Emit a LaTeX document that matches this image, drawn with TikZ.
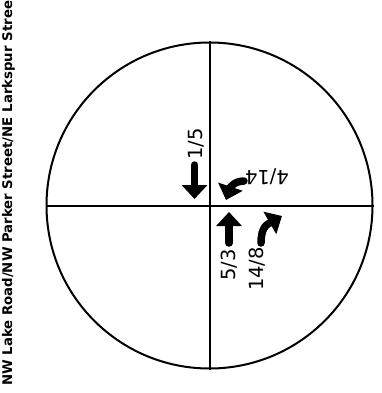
\documentclass[tikz,border=0pt]{standalone}
\usepackage{fontspec}
\setmainfont{DejaVu Sans}
\usetikzlibrary{arrows.meta,positioning}

\begin{document}
\begin{tikzpicture}[x=1pt,y=-1pt,
    mv/.style={line width=7.5pt,line cap=round,-{Triangle[width=25pt,length=14pt]}},
    vol/.style={font=\fontsize{19.5}{19.5}\selectfont,inner sep=0pt}]
  \useasboundingbox (0,0) rectangle (381,393);
  \coordinate (c) at (209.5,205.5);
  \node[circle,draw,line width=2pt,minimum size=326pt,inner sep=0pt] (ring) at (c) {};
  \draw[line width=2pt] (ring.north) -- (ring.south);
  \draw[line width=2pt] (ring.west) -- (ring.east);
  % street name
  \node[rotate=90,anchor=west,inner sep=0pt,
        font=\bfseries\fontsize{13.3}{13.3}\selectfont] (street) at (8.5,386)
    {NW Lake Road/NW Parker Street/NE Larkspur Street};
  % southbound
  \coordinate (sbt0) at (194.5,165);
  \coordinate (sbt1) at (194.5,199);
  \draw[mv] (sbt0) -- (sbt1);
  \node[vol,rotate=90] (sbtv) at (196,144) {1/5};
  % westbound
  \coordinate (wbl0) at (244,181);
  \coordinate (wbl1) at (226,200);
  \draw[mv] (wbl0) .. controls (234,181) and (230,188) .. (wbl1);
  \node[vol,rotate=180] (wblv) at (267,177) {4/14};
  % northbound
  \coordinate (nbt0) at (229,243);
  \coordinate (nbt1) at (229,212);
  \draw[mv] (nbt0) -- (nbt1);
  \node[vol,rotate=90] (nbtv) at (229.5,265) {5/3};
  \coordinate (nbr0) at (261,243);
  \coordinate (nbr1) at (282,216);
  \draw[mv] (nbr0) .. controls (261,226) and (268,224) .. (nbr1);
  \node[vol,rotate=90] (nbrv) at (257.5,269) {14/8};
\end{tikzpicture}
\end{document}
